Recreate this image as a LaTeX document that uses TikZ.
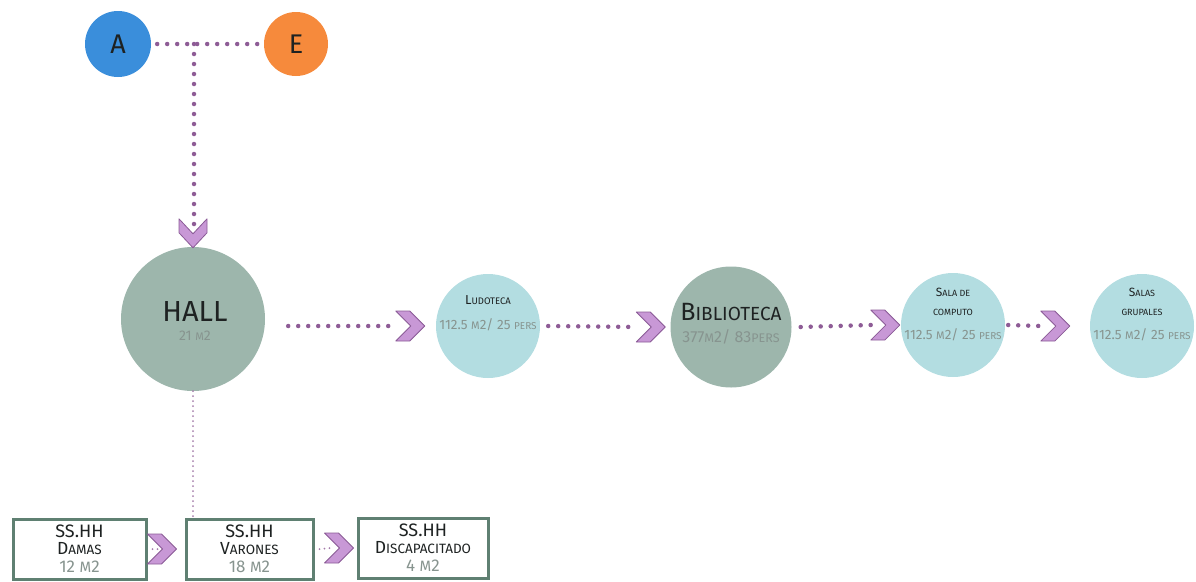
\documentclass[tikz,border=0pt]{standalone}
\usepackage{fontspec}
\usetikzlibrary{calc}
\setmainfont{Fira Sans}
\definecolor{cA}{HTML}{3A8EDB}
\definecolor{cE}{HTML}{F68A3C}
\definecolor{cG}{HTML}{9DB6AC}
\definecolor{cL}{HTML}{B3DDE1}
\definecolor{cDot}{HTML}{8E5C96}
\definecolor{cChF}{HTML}{C898D6}
\definecolor{cChD}{HTML}{8A5A96}
\definecolor{cBox}{HTML}{5F8072}
\definecolor{cNum}{HTML}{87948F}
\definecolor{cTxt}{HTML}{1E2222}
\newcommand\fsc[4]{{\fontsize{#1}{#1}\selectfont #3}{\fontsize{#2}{#2}\selectfont #4}}
\newcommand\fz[1]{\fontsize{#1}{#1}\selectfont}
\begin{document}
\begin{tikzpicture}[x=1pt,y=-1pt,
  circ/.style={circle,inner sep=0pt,text=cTxt},
  lbl/.style={inner sep=0pt,text=cTxt},
  num/.style={inner sep=0pt,text=cNum},
  dotline/.style={draw=cDot,line width=4.5pt,line cap=round,dash pattern=on 0pt off 10pt},
  fineline/.style={draw=cDot!80,line width=2pt,line cap=round,dash pattern=on 0pt off 5pt},
  boxnode/.style={draw=cBox,line width=3pt,fill=white,minimum height=60pt,inner sep=0pt},
  chevR/.pic={\filldraw[fill=cChF,draw=cChD,line width=0.8pt,line join=round]
     (-29,-15) -- (-15,-15) -- (0,0) -- (-15,15) -- (-29,15) -- (-14,0) -- cycle;},
  chevD/.pic={\filldraw[fill=cChF,draw=cChD,line width=0.8pt,line join=round]
     (-14,-29) -- (-14,-15) -- (0,0) -- (14,-15) -- (14,-29) -- (0,-14) -- cycle;}
]
\useasboundingbox (0,0) rectangle (1196,581);
% top circles
\node[circ,fill=cA,minimum size=66pt] (a) at (118,44) {\fz{27}A};
\node[circ,fill=cE,minimum size=64pt] (e) at (296,44) {\fz{27}E};
\coordinate (j) at (194,44);
\draw[dotline] ([xshift=6pt]a.east) -- ([xshift=-6pt]e.west);
% hall
\node[circ,fill=cG,minimum size=144pt] (hall) at (193,319) {};
\node[lbl] (hallT) at ($(hall)+(2,-7)$) {\fz{29}HALL};
\node[num] (hallN) at ($(hall)+(2,17)$) {\fz{14}21 {\fz{11}M}2};
\draw[dotline] (j) -- (194,228);
\pic at ([yshift=-1pt]hall.north) {chevD};
% ludoteca
\node[circ,fill=cL,minimum size=104pt] (ludo) at (488,326) {};
\node[lbl] (ludoT) at ($(ludo)+(0,-26)$) {\fsc{13}{9.5}{L}{UDOTECA}};
\node[num] (ludoN) at ($(ludo)+(0,-1)$) {\fz{13.5}112.5 {\fz{11}M}2/ 25 {\fz{10}PERS}};
\draw[dotline] ($(hall.east |- ludo.west)+(23,0)$) -- ([xshift=-38pt]ludo.west);
\pic at ([xshift=-11pt]ludo.west) {chevR};
% biblioteca
\node[circ,fill=cG,minimum size=121pt] (bib) at (731,327) {};
\node[lbl] (bibT) at ($(bib)+(0,-15)$) {\fsc{25}{19}{B}{IBLIOTECA}};
\node[num] (bibN) at ($(bib)+(0,10)$) {\fz{16}377{\fz{12.5}M}2/ 83{\fz{12.5}PERS}};
\draw[dotline] ([xshift=8pt]ludo.east) -- ([xshift=-33pt]bib.west);
\pic at ([xshift=-5pt]bib.west) {chevR};
% sala de computo
\node[circ,fill=cL,minimum size=104pt] (sala) at (953,325) {};
\node[lbl] (salaT) at ($(sala)+(0,-33)$) {\fsc{12}{9}{S}{ALA DE}};
\node[lbl] (salaT2) at ($(sala)+(0,-13)$) {\fz{9}COMPUTO};
\node[num] (salaN) at ($(sala)+(0,10)$) {\fz{13.5}112.5 {\fz{11}M}2/ 25 {\fz{10}PERS}};
\draw[dotline] ([xshift=9pt]bib.east) -- ([xshift=-30pt]sala.west);
\pic at ([xshift=-1pt]sala.west) {chevR};
% salas grupales
\node[circ,fill=cL,minimum size=104pt] (grup) at (1142,326) {};
\node[lbl] (grupT) at ($(grup)+(0,-34)$) {\fsc{12}{9}{S}{ALAS}};
\node[lbl] (grupT2) at ($(grup)+(0,-14)$) {\fz{9}GRUPALES};
\node[num] (grupN) at ($(grup)+(0,9)$) {\fz{13.5}112.5 {\fz{11}M}2/ 25 {\fz{10}PERS}};
\draw[dotline] ([xshift=3pt]sala.east) -- ([xshift=-50pt]grup.west);
\pic at ([xshift=-20pt]grup.west) {chevR};
% boxes
\node[boxnode,minimum width=133pt] (dam) at (79.5,549) {};
\node[boxnode,minimum width=127pt] (var) at (249.5,549) {};
\node[boxnode,minimum width=130pt] (dis) at (423,548) {};
\foreach \b/\f/\r/\n in {dam/D/AMAS/12, var/V/ARONES/18, dis/D/ISCAPACITADO/4}{
  \node[lbl] (\b T) at ($(\b)+(0,-18)$) {\fz{18}SS.HH};
  \node[lbl] (\b S) at ($(\b)+(0,0)$) {\fsc{17.5}{13.5}{\f}{\r}};
  \node[num] (\b N) at ($(\b)+(0,18)$) {\fz{17}\n\ {\fz{15}M}2};
}
\draw[fineline] (hall.south) -- (hall.south |- var.north);
\draw[fineline] ([xshift=5pt]dam.east) -- ([xshift=-18pt]var.west);
\pic at ([xshift=-8pt]var.west) {chevR};
\draw[fineline] ([xshift=5pt]var.east) -- ([xshift=-25pt]dis.west);
\pic at ([xshift=-3pt]dis.west) {chevR};
\end{tikzpicture}
\end{document}
